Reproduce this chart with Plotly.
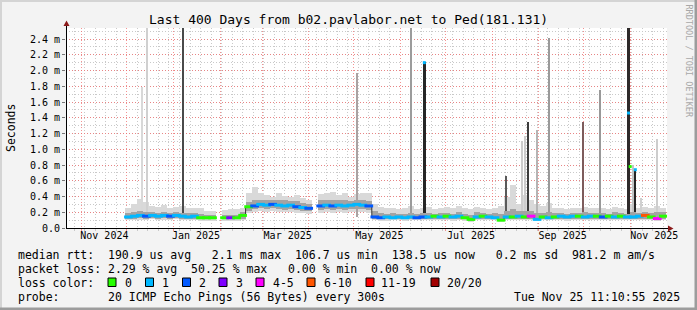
import plotly.graph_objects as go
import pandas as pd

# ---------------- data ----------------
START = "2024-10-21 11:10:55"
END = "2025-11-25 11:10:55"
BIN_START = "2024-12-02"
BIN_DAYS = 4

MEDIAN = [0.14, 0.15, 0.16, 0.15, 0.16, 0.15, 0.16, 0.15, 0.16, 0.15, 0.14, 0.15, 0.13, 0.13, 0.13,
          None,
          0.13, 0.13, 0.13, 0.16,
          0.27, 0.28, 0.30, 0.29, 0.30, 0.29, 0.28, 0.29, 0.27, 0.26, 0.25,
          None,
          0.28, 0.29, 0.28, 0.29, 0.28, 0.29, 0.30, 0.29, 0.28,
          0.14, 0.13, 0.14, 0.13, 0.14, 0.13, 0.14, 0.13, 0.14, 0.14,
          0.15, 0.14, 0.15, 0.14, 0.15, 0.13, 0.11, 0.14, 0.15, 0.14,
          0.13, 0.10, 0.14, 0.14, 0.15, 0.14, 0.15, 0.11, 0.14, 0.13,
          0.14, 0.15, 0.14, 0.15, 0.15, 0.14, 0.15, 0.15, 0.14, 0.15,
          0.14, 0.15, 0.14, 0.14, 0.15, 0.16, 0.14, 0.12, 0.15]

LOSS = [1, 1, 1, 2, 1, 1, 1, 2, 1, 1, 1, 1, 0, 0, 0,
        None,
        0, 3, 0, 0,
        0, 2, 1, 1, 2, 1, 1, 1, 2, 1, 2,
        None,
        2, 1, 2, 1, 1, 1, 1, 1, 2,
        2, 2, 1, 1, 1, 1, 1, 2, 2, 1,
        0, 1, 0, 1, 1, 0, 0, 1, 0, 1,
        1, 0, 1, 0, 1, 0, 4, 1, 0, 1,
        0, 1, 1, 1, 0, 1, 1, 0, 2, 0,
        1, 0, 1, 1, 1, 5, 0, 4, 0]

SMOKE_MAX = [0.26, 0.30, 0.37, 0.33, 0.28, 0.27, 0.29, 0.26, 0.27, 0.28, 0.25, 0.26, 0.25, 0.22, 0.22,
             None,
             0.23, 0.24, 0.24, 0.26,
             0.45, 0.52, 0.44, 0.42, 0.40, 0.45, 0.41, 0.40, 0.42, 0.38, 0.36,
             None,
             0.43, 0.44, 0.46, 0.42, 0.44, 0.40, 0.43, 0.45, 0.44,
             0.30, 0.27, 0.25, 0.26, 0.24, 0.25, 0.28, 0.24, 0.26, 0.27,
             0.24, 0.25, 0.27, 0.26, 0.28, 0.25, 0.24, 0.27, 0.25, 0.24,
             0.26, 0.28, 0.40, 0.55, 0.30, 0.42, 0.35, 0.30, 0.28, 0.32,
             0.26, 0.25, 0.24, 0.26, 0.25, 0.27, 0.26, 0.25, 0.26, 0.24,
             0.27, 0.25, 0.24, 0.30, 0.26, 0.27, 0.25, 0.28, 0.26]

SMOKE_Q3 = [0.19, 0.20, 0.21, 0.20, 0.20, 0.19, 0.20, 0.19, 0.20, 0.19, 0.19, 0.19, 0.18, 0.17, 0.17,
            None,
            0.17, 0.17, 0.17, 0.20,
            0.33, 0.36, 0.36, 0.35, 0.35, 0.36, 0.35, 0.34, 0.34, 0.32, 0.31,
            None,
            0.35, 0.35, 0.36, 0.35, 0.35, 0.34, 0.36, 0.35, 0.34,
            0.21, 0.19, 0.18, 0.19, 0.18, 0.18, 0.19, 0.18, 0.19, 0.19,
            0.18, 0.19, 0.19, 0.18, 0.20, 0.18, 0.17, 0.20, 0.19, 0.18,
            0.19, 0.18, 0.22, 0.24, 0.21, 0.22, 0.21, 0.19, 0.19, 0.20,
            0.19, 0.19, 0.18, 0.19, 0.19, 0.20, 0.19, 0.19, 0.19, 0.18,
            0.20, 0.19, 0.18, 0.20, 0.19, 0.20, 0.19, 0.20, 0.20]

SMOKE_Q1 = [0.12, 0.12, 0.13, 0.12, 0.13, 0.12, 0.13, 0.12, 0.13, 0.12, 0.12, 0.12, 0.11, 0.11, 0.11,
            None,
            0.11, 0.11, 0.11, 0.12,
            0.22, 0.24, 0.25, 0.24, 0.25, 0.24, 0.23, 0.24, 0.23, 0.22, 0.21,
            None,
            0.23, 0.24, 0.23, 0.24, 0.23, 0.24, 0.24, 0.24, 0.23,
            0.12, 0.11, 0.11, 0.11, 0.12, 0.11, 0.11, 0.11, 0.12, 0.12,
            0.12, 0.11, 0.12, 0.11, 0.12, 0.11, 0.09, 0.11, 0.12, 0.11,
            0.11, 0.09, 0.11, 0.12, 0.11, 0.12, 0.11, 0.10, 0.11, 0.11,
            0.11, 0.11, 0.11, 0.11, 0.12, 0.11, 0.11, 0.12, 0.11, 0.12,
            0.11, 0.12, 0.11, 0.11, 0.12, 0.12, 0.11, 0.10, 0.12]

SMOKE_MIN = [0.10, 0.10, 0.10, 0.10, 0.11, 0.10, 0.10, 0.10, 0.11, 0.10, 0.10, 0.10, 0.09, 0.09, 0.09,
             None,
             0.09, 0.09, 0.09, 0.10,
             0.19, 0.20, 0.21, 0.20, 0.21, 0.20, 0.20, 0.20, 0.19, 0.19, 0.18,
             None,
             0.19, 0.20, 0.19, 0.20, 0.19, 0.20, 0.20, 0.20, 0.19,
             0.10, 0.09, 0.09, 0.10, 0.10, 0.09, 0.10, 0.10, 0.10, 0.10,
             0.10, 0.10, 0.10, 0.09, 0.10, 0.09, 0.08, 0.10, 0.10, 0.10,
             0.10, 0.08, 0.10, 0.10, 0.10, 0.10, 0.10, 0.09, 0.10, 0.10,
             0.10, 0.10, 0.09, 0.10, 0.10, 0.10, 0.10, 0.10, 0.10, 0.10,
             0.10, 0.10, 0.10, 0.10, 0.10, 0.10, 0.10, 0.09, 0.10]

SPIKE_DATES = ["2024-12-10 20:00", "2024-12-14 04:00", "2025-01-07 15:30", "2025-05-03 01:30",
               "2025-06-08 04:00", "2025-06-16 23:00", "2025-08-10 04:00", "2025-08-21 01:40",
               "2025-08-23 01:40", "2025-08-24 21:00", "2025-08-31 01:40", "2025-09-08 04:00",
               "2025-09-30 18:30", "2025-10-11 23:00", "2025-10-30 21:00", "2025-11-02 13:40",
               "2025-11-04 09:00", "2025-11-08 11:00", "2025-11-18 16:00"]
SPIKE_TOPS = [1.79, 2.54, 2.54, 1.97, 2.54, 2.11, 0.66, 1.10, 1.17, 1.35,
              1.24, 2.41, 1.35, 1.75, 2.54, 0.80, 0.75, 0.38, 1.13]

MARK_DATES = ["2025-06-16 23:00", "2025-10-30 21:00", "2025-10-31 23:00", "2025-11-04 09:00"]
MARK_VALUES = [2.10, 1.46, 0.78, 0.74]
MARK_LOSS = [1, 1, 0, 1]

Y_TICKS = [0.0, 0.2, 0.4, 0.6, 0.8, 1.0, 1.2, 1.4, 1.6, 1.8, 2.0, 2.2, 2.4]
Y_LABELS = ["0.0", "0.2 m", "0.4 m", "0.6 m", "0.8 m", "1.0 m", "1.2 m", "1.4 m",
            "1.6 m", "1.8 m", "2.0 m", "2.2 m", "2.4 m"]
X_LABEL_DATES = ["2024-11-16", "2025-01-16", "2025-03-18", "2025-05-18",
                 "2025-07-18", "2025-09-17", "2025-11-17"]
X_LABELS = ["Nov 2024", "Jan 2025", "Mar 2025", "May 2025", "Jul 2025", "Sep 2025", "Nov 2025"]

LOSS_LABELS = ["0", "1", "2", "3", "4-5", "6-10", "11-19", "20/20"]

# ---------------- styles ----------------
LOSS_COLORS = ["#26ff00", "#00b8ff", "#0059ff", "#7e00ff", "#ff00ff", "#ff5500", "#ff0000", "#a10000"]
SPIKE_COLORS = ["#d8d8d8", "#d0d0d0", "#4a4a4a", "#aaa2a2", "#9c9c9c", "#262626", "#5a5a5a",
                "#cdcdcd", "#cdcdcd", "#3c3c3c", "#b4b4b4", "#9a9a9a", "#7d5c5c", "#999999",
                "#2e2a2a", "#c4c4c4", "#262626", "#d0d0d0", "#cdcdcd"]
SPIKE_WIDTH_PX = [1, 1, 1, 1, 1, 3.5, 2, 1, 1, 1, 1, 1, 2, 1, 3.5, 1, 2, 1, 1]

W, H = 697, 310
PL, PR, PT, PB = 66, 667, 28, 228  # plot area in pixels
MONO = "DejaVu Sans Mono"
DAY_MS = 86400000
PX_PER_DAY = (PR - PL) / 400.0


def fx(px):
    return (px - PL) / (PR - PL)


def fy(py):
    return (PB - py) / (PB - PT)


def span(lo, hi):
    return [None if (a is None or b is None) else round(b - a, 4) for a, b in zip(lo, hi)]


dates = pd.date_range(BIN_START, periods=len(MEDIAN), freq=f"{BIN_DAYS}D")
fig = go.Figure()

# outer smoke
fig.add_trace(go.Bar(x=dates, base=SMOKE_MIN, y=span(SMOKE_MIN, SMOKE_MAX),
                     width=BIN_DAYS * DAY_MS, marker=dict(color="#d9d9d9", line=dict(width=0)),
                     hoverinfo="skip"))
# spikes
SPIKE_BASE = 0.14
fig.add_trace(go.Bar(x=pd.to_datetime(SPIKE_DATES), base=SPIKE_BASE,
                     y=[t - SPIKE_BASE for t in SPIKE_TOPS],
                     width=[w / PX_PER_DAY * DAY_MS for w in SPIKE_WIDTH_PX],
                     marker=dict(color=SPIKE_COLORS, line=dict(width=0)), hoverinfo="skip"))
# inner smoke
fig.add_trace(go.Bar(x=dates, base=SMOKE_Q1, y=span(SMOKE_Q1, SMOKE_Q3),
                     width=BIN_DAYS * DAY_MS, marker=dict(color="#a3a3a3", line=dict(width=0)),
                     hoverinfo="skip"))
# median step line
fig.add_trace(go.Scatter(x=dates, y=MEDIAN, mode="lines", line=dict(color="#333333", width=1, shape="hvh"),
                         connectgaps=False, hoverinfo="skip"))
# median coloured by loss
mcol = [LOSS_COLORS[c] if c is not None else "#000000" for c in LOSS]
fig.add_trace(go.Scatter(x=dates, y=MEDIAN, mode="markers",
                         marker=dict(symbol="line-ew", size=6.2, color=mcol,
                                     line=dict(width=3, color=mcol)), hoverinfo="skip"))
# tall-median markers
kcol = [LOSS_COLORS[c] for c in MARK_LOSS]
fig.add_trace(go.Scatter(x=pd.to_datetime(MARK_DATES), y=MARK_VALUES, mode="markers",
                         marker=dict(symbol="square", size=3, color=kcol, line=dict(width=0)),
                         hoverinfo="skip"))
# dummy for label axis
fig.add_trace(go.Scatter(x=[START], y=[None], xaxis="x2", yaxis="y", showlegend=False, hoverinfo="skip"))

MAJ = "rgba(240,110,110,0.75)"
MIN = "#c9c9c9"
fig.update_layout(
    width=W, height=H,
    margin=dict(l=PL, r=W - PR, t=PT, b=H - PB, pad=0),
    paper_bgcolor="#f3f3f3", plot_bgcolor="#ffffff",
    showlegend=False, barmode="overlay", bargap=0,
    xaxis=dict(type="date", range=[START, END], tickmode="linear", tick0="2024-11-01", dtick="M1",
               showgrid=True, gridcolor=MAJ, griddash="1px,2px", gridwidth=1,
               showticklabels=False, ticks="outside", ticklen=2, tickcolor=MAJ,
               showline=False, zeroline=False,
               minor=dict(tick0="2024-10-27", dtick=7 * DAY_MS, showgrid=True, gridcolor=MIN,
                          griddash="1px,2px", ticks="outside", ticklen=2, tickcolor=MIN)),
    xaxis2=dict(type="date", range=[START, END], overlaying="x", anchor="y", side="bottom",
                tickmode="array", tickvals=X_LABEL_DATES, ticktext=X_LABELS,
                showgrid=False, zeroline=False, showline=False, ticks="",
                tickfont=dict(family=MONO, size=10, color="#000000")),
    yaxis=dict(range=[0, 2.54], tickmode="array", tickvals=Y_TICKS, ticktext=Y_LABELS,
               showgrid=True, gridcolor=MAJ, griddash="1px,2px", zeroline=False, showline=False,
               ticks="outside", ticklen=3, tickcolor="#777777",
               tickfont=dict(family=MONO, size=10, color="#000000"),
               minor=dict(tickmode="linear", tick0=0, dtick=0.1, showgrid=True, gridcolor=MIN,
                          griddash="1px,2px")),
)

shapes = []
# axes lines and arrows
shapes.append(dict(type="line", xref="paper", yref="paper", x0=fx(PL), x1=fx(669), y0=fy(228.5), y1=fy(228.5),
                   line=dict(color="#000000", width=1)))
shapes.append(dict(type="line", xref="paper", yref="paper", x0=fx(66.5), x1=fx(66.5), y0=fy(228), y1=fy(25),
                   line=dict(color="#000000", width=1)))
shapes.append(dict(type="path", xref="paper", yref="paper",
                   path=f"M {fx(668)} {fy(225.5)} L {fx(673.5)} {fy(228.5)} L {fx(668)} {fy(231.5)} Z",
                   fillcolor="#8b1a1a", line=dict(width=0)))
shapes.append(dict(type="path", xref="paper", yref="paper",
                   path=f"M {fx(63.5)} {fy(26)} L {fx(66.5)} {fy(20.5)} L {fx(69.5)} {fy(26)} Z",
                   fillcolor="#8b1a1a", line=dict(width=0)))
# frame bevel
shapes.append(dict(type="rect", xref="paper", yref="paper", x0=fx(0), x1=fx(697), y0=fy(0), y1=fy(2),
                   fillcolor="#d4d4d4", line=dict(width=0)))
shapes.append(dict(type="rect", xref="paper", yref="paper", x0=fx(0), x1=fx(2), y0=fy(0), y1=fy(310),
                   fillcolor="#d4d4d4", line=dict(width=0)))
shapes.append(dict(type="rect", xref="paper", yref="paper", x0=fx(0), x1=fx(697), y0=fy(307.5), y1=fy(310),
                   fillcolor="#9c9c9c", line=dict(width=0)))
shapes.append(dict(type="rect", xref="paper", yref="paper", x0=fx(694.5), x1=fx(697), y0=fy(0), y1=fy(310),
                   fillcolor="#9c9c9c", line=dict(width=0)))

# loss-colour legend boxes
BOX_X = [108, 145.5, 182.5, 219, 256, 307, 366, 431]
LBL_X = [123, 160, 197, 234, 270.5, 321.5, 379, 445]
for bx, c in zip(BOX_X, LOSS_COLORS):
    shapes.append(dict(type="rect", xref="paper", yref="paper", x0=fx(bx), x1=fx(bx + 8),
                       y0=fy(286.5), y1=fy(278), fillcolor=c, line=dict(color="#000000", width=1)))

NB = "\u00a0"


def t(s):
    return s.replace(" ", NB)


ann = []
ann.append(dict(x=fx(348.5), y=fy(19.5), xref="paper", yref="paper", showarrow=False,
                text=t("Last 400 Days from b02.pavlabor.net to Ped(181.131)"),
                font=dict(family=MONO, size=13, color="#000000"), xanchor="center", yanchor="middle"))
ann.append(dict(x=fx(11), y=fy(128), xref="paper", yref="paper", showarrow=False, text="Seconds",
                textangle=-90, font=dict(family=MONO, size=11.5, color="#000000"),
                xanchor="center", yanchor="middle"))
ann.append(dict(x=fx(688.5), y=fy(61), xref="paper", yref="paper", showarrow=False,
                text=t("RRDTOOL / TOBI OETIKER"), textangle=90,
                font=dict(family=MONO, size=8.5, color="#a8a8a8"), xanchor="center", yanchor="middle"))

LEG_LINES = [
    "median rtt:  190.9 us avg   2.1 ms max  106.7 us min  138.5 us now   0.2 ms sd  981.2 m am/s",
    "packet loss: 2.29 % avg  50.25 % max   0.00 % min  0.00 % now",
    "loss color:",
    "probe:       20 ICMP Echo Pings (56 Bytes) every 300s",
]
LEG_Y = [254.5, 268.5, 282.5, 296.5]
for s, yy in zip(LEG_LINES, LEG_Y):
    ann.append(dict(x=fx(15.5), y=fy(yy), xref="paper", yref="paper", showarrow=False, text=t(s),
                    font=dict(family=MONO, size=11.5, color="#000000"), xanchor="left", yanchor="middle"))
for lx, lab in zip(LBL_X, LOSS_LABELS):
    ann.append(dict(x=fx(lx), y=fy(282.5), xref="paper", yref="paper", showarrow=False, text=lab,
                    font=dict(family=MONO, size=11.5, color="#000000"), xanchor="left", yanchor="middle"))
ann.append(dict(x=fx(681.5), y=fy(296.5), xref="paper", yref="paper", showarrow=False,
                text=t("Tue Nov 25 11:10:55 2025"),
                font=dict(family=MONO, size=11.5, color="#000000"), xanchor="right", yanchor="middle"))

fig.update_layout(shapes=shapes, annotations=ann)
fig.write_html("out.html")
